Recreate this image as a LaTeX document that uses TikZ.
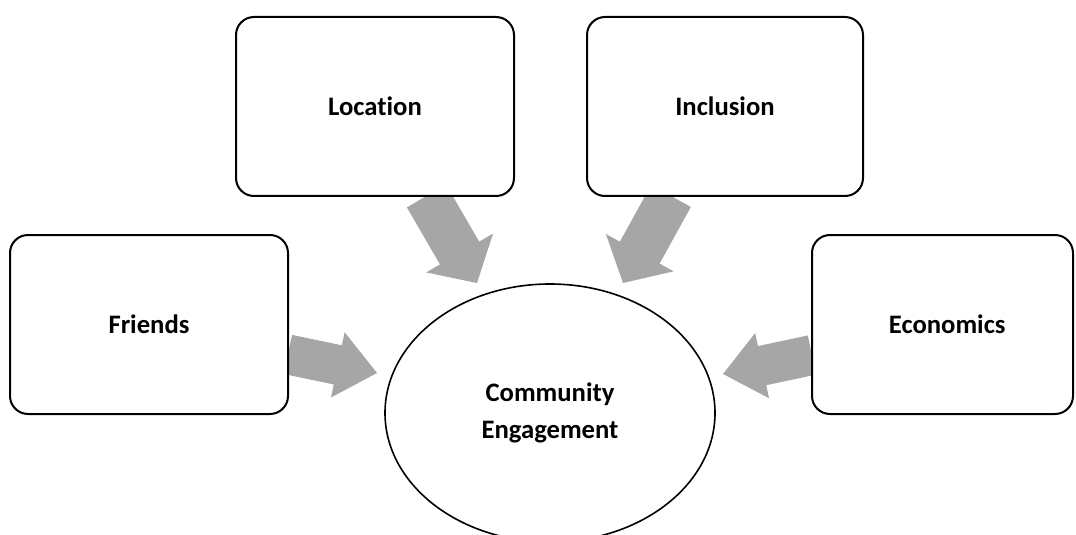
\documentclass[tikz,border=0pt]{standalone}
\usepackage{fontspec}
\setmainfont{Carlito}[Ligatures={NoCommon}]
\usetikzlibrary{calc,shapes.geometric}
\definecolor{arrowgray}{HTML}{A6A6A6}
\tikzset{
  factorbox/.style={draw=black, line width=1.5pt, fill=white, rounded corners=13.5pt,
    minimum width=208.5pt, minimum height=134.25pt, inner sep=0pt,
    font=\fontsize{20}{24}\selectfont\bfseries},
  centreell/.style={ellipse, draw=black, line width=1.2pt, fill=white,
    minimum width=247.5pt, minimum height=193.5pt, inner sep=0pt, align=center,
    font=\fontsize{20}{27.5}\selectfont\bfseries},
  arrowfill/.style={fill=arrowgray, draw=none}
}
% #1 name, #2 start, #3 tip, #4 half shaft width, #5 half head width, #6 head length
\newcommand\blockarrow[6]{%
  \coordinate (#1h) at ($(#3)!#6!(#2)$);
  \fill[arrowfill] ($(#2)!#4!90:(#3)$) -- ($(#1h)!#4!90:(#3)$) -- ($(#1h)!#5!90:(#3)$)
    -- (#3) -- ($(#1h)!#5!-90:(#3)$) -- ($(#1h)!#4!-90:(#3)$) -- ($(#2)!#4!-90:(#3)$) -- cycle;
}
\begin{document}
\begin{tikzpicture}[x=0.75pt,y=-0.75pt]
\useasboundingbox (0,0) rectangle (1076,535);
\fill[white] (0,0) rectangle (1076,535);

% arrow end points
\coordinate (locS) at (426.5,196);
\coordinate (locT) at (477,283);
\coordinate (incS) at (671,196);
\coordinate (incT) at (623,283);
\coordinate (friS) at (288,354.5);
\coordinate (friT) at (377,373);
\coordinate (ecoS) at (812,355);
\coordinate (ecoT) at (723,374);

\blockarrow{aloc}{locS}{locT}{17pt}{29pt}{26pt}
\blockarrow{ainc}{incS}{incT}{17pt}{29pt}{26pt}
\blockarrow{afri}{friS}{friT}{15pt}{25pt}{30pt}
\blockarrow{aeco}{ecoS}{ecoT}{15pt}{25pt}{30pt}

\node[factorbox] (fri) at (149,324.5) {Friends};
\node[factorbox] (loc) at (375,106.5) {Location};
\node[factorbox, minimum width=207pt] (inc) at (725,106.5) {Inclusion};
\node[factorbox, minimum width=195.75pt] (eco) at (942.5,324.5) {\hspace*{7pt}Economics};
\node[centreell] (ce) at (550,413) {Community\\Engagement};
\end{tikzpicture}
\end{document}
